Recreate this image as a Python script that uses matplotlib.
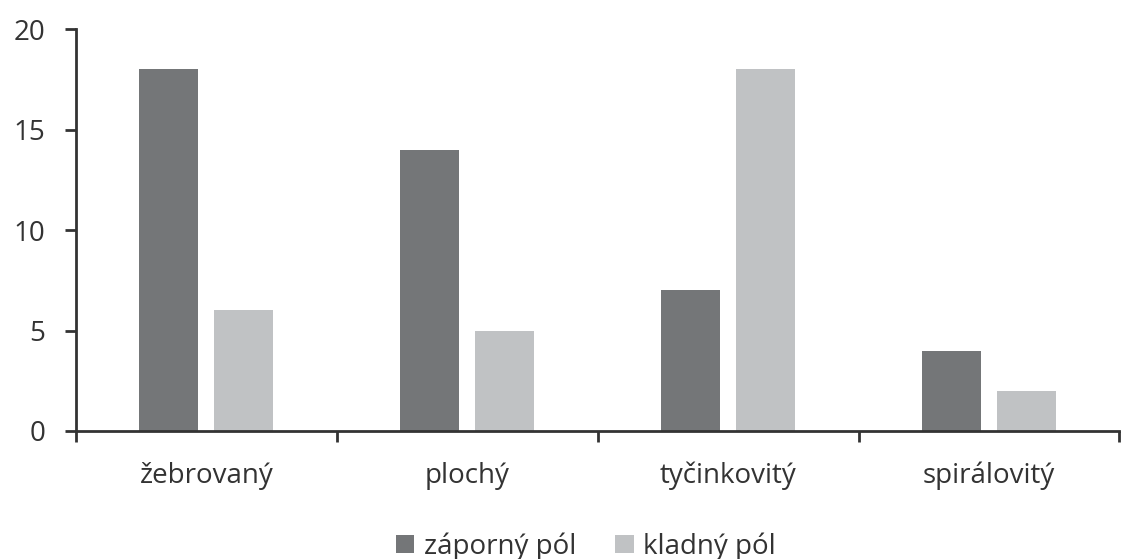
import matplotlib.pyplot as plt
import numpy as np

plt.rcParams['font.family'] = ['Open Sans', 'DejaVu Sans']

categories = ["žebrovaný", "plochý", "tyčinkovitý", "spirálovitý"]
zaporny = [18, 14, 7, 4]
kladny = [6, 5, 18, 2]
labels = ["záporný pól", "kladný pól"]
yticks = [0, 5, 10, 15, 20]

dark = "#747678"
light = "#c0c2c4"
axcol = "#333333"

fig = plt.figure(figsize=(11.22, 5.59), dpi=100)
ax = fig.add_axes([0.0677, 0.229, 0.930, 0.719])

x = np.arange(len(categories))
w = 0.226
off = 0.144
ax.bar(x - off, zaporny, w, color=dark, label=labels[0])
ax.bar(x + off, kladny, w, color=light, label=labels[1])

ax.set_xlim(-0.5, len(categories) - 0.5)
ax.set_ylim(0, 20)
ax.set_yticks(yticks)
ax.set_yticklabels([str(t) for t in yticks])

# category ticks at boundaries, labels in the middle
ax.set_xticks(np.arange(len(categories) + 1) - 0.5)
ax.set_xticklabels([])
ax.set_xticks(x, minor=True)
ax.set_xticklabels(categories, minor=True)
ax.tick_params(axis='x', which='minor', length=0, pad=22, labelsize=20, labelcolor=axcol)
ax.tick_params(axis='x', which='major', length=8, width=2, color=axcol, direction='out')
ax.tick_params(axis='y', length=8, width=2, color=axcol, pad=14, labelsize=20, labelcolor=axcol)

for s in ['top', 'right']:
    ax.spines[s].set_visible(False)
for s in ['left', 'bottom']:
    ax.spines[s].set_color(axcol)
    ax.spines[s].set_linewidth(2)

ax.legend(loc='lower center', bbox_to_anchor=(0.489, -0.385), ncol=2, frameon=False,
          fontsize=20, handlelength=0.65, handleheight=0.65, handletextpad=0.35,
          columnspacing=1.4, labelcolor=axcol)

fig.savefig("out.png", dpi=100)
